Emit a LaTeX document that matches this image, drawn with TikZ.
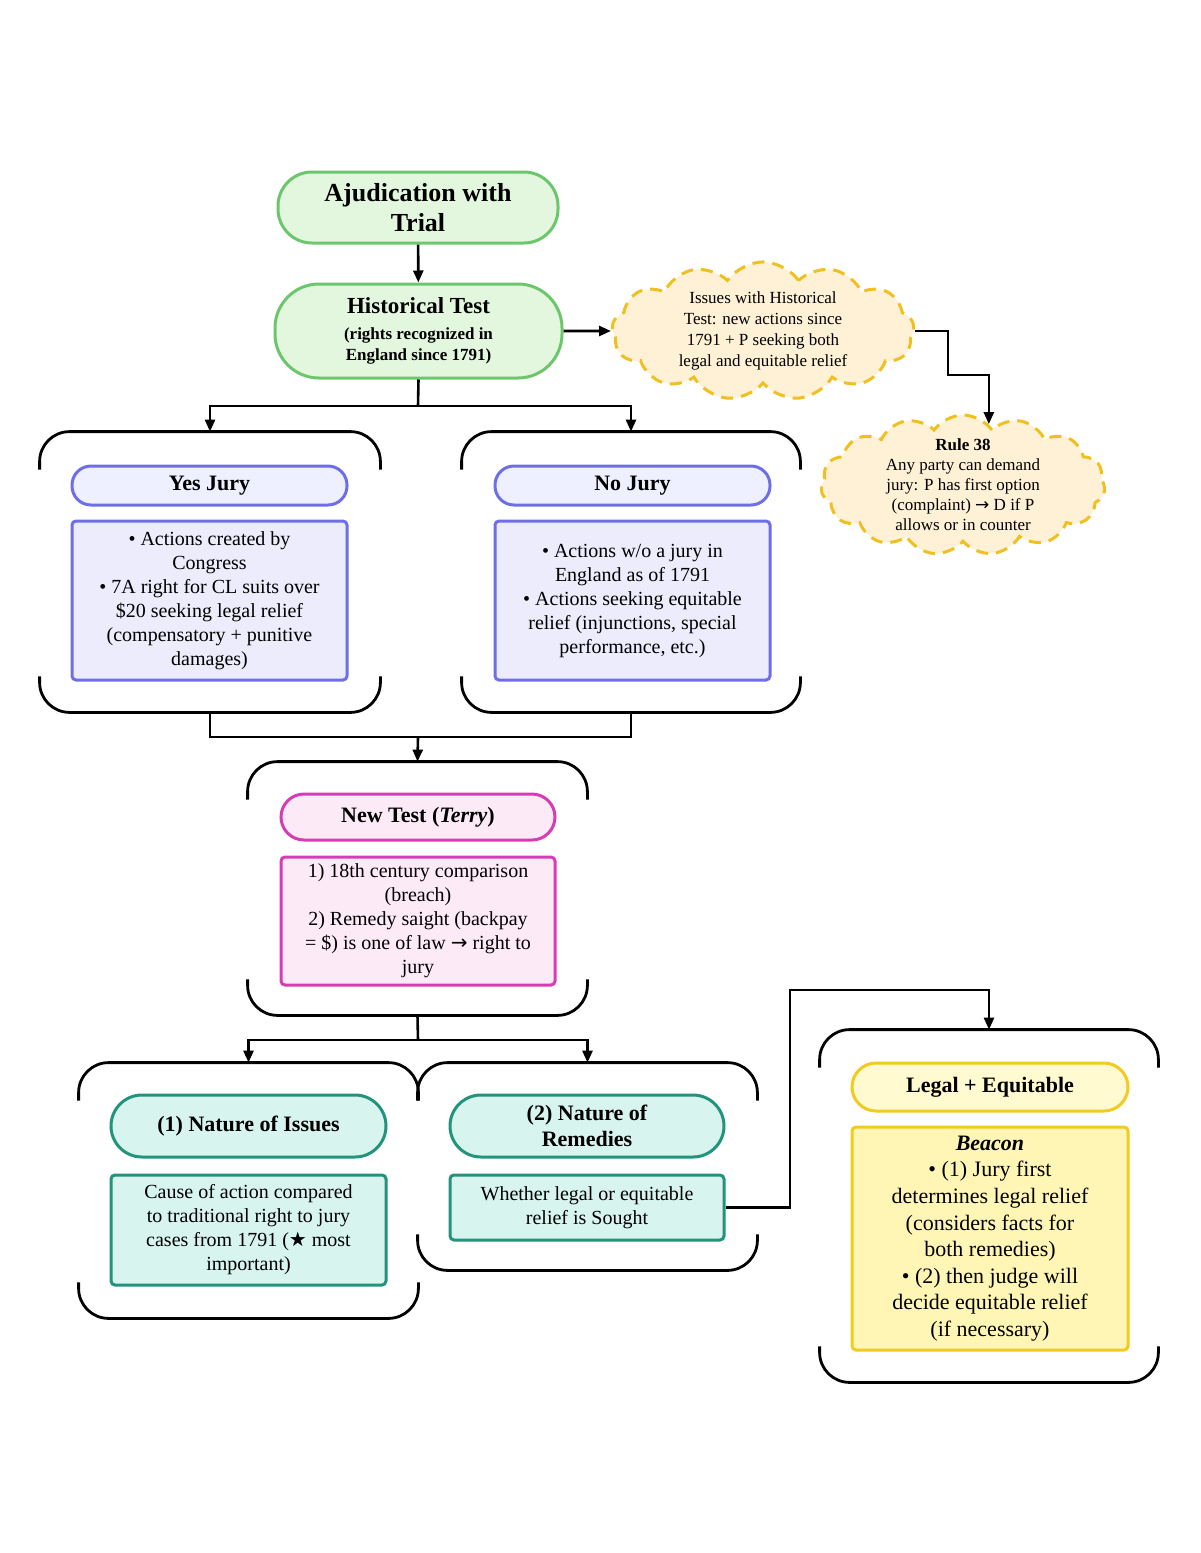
\documentclass[tikz,border=0pt]{standalone}
\usepackage{fontspec}
\setmainfont{Liberation Serif}
\newfontfamily\symf{DejaVu Sans}
\usetikzlibrary{arrows.meta,shapes.symbols,calc}
\definecolor{gbord}{HTML}{6CC66C}
\definecolor{gfill}{HTML}{E3F7DF}
\definecolor{cbord}{HTML}{F0C020}
\definecolor{cfill}{HTML}{FFF1D6}
\definecolor{lbord}{HTML}{6E6EE8}
\definecolor{lfill}{HTML}{EEF0FF}
\definecolor{lfillb}{HTML}{ECECFC}
\definecolor{pbord}{HTML}{D63DB5}
\definecolor{pfill}{HTML}{FDEAF7}
\definecolor{tbord}{HTML}{22937C}
\definecolor{tfill}{HTML}{D8F4EE}
\definecolor{ybord}{HTML}{F3CA1E}
\definecolor{yfill}{HTML}{FFFAD0}
\definecolor{yfillb}{HTML}{FFF6B5}
\newcommand\grpbrk[1]{%
  \draw[brk] ([yshift=-19pt]#1.north west) -- (#1.north west) -- (#1.north east) -- ([yshift=-19pt]#1.north east);
  \draw[brk] ([yshift=18pt]#1.south west) -- (#1.south west) -- (#1.south east) -- ([yshift=18pt]#1.south east);}
\begin{document}
\begin{tikzpicture}[x=0.5pt,y=-0.5pt,
  base/.style={align=center, inner sep=1pt, line width=1.5pt, font=\fontsize{10}{12}\selectfont},
  pill/.style={base, draw, font=\fontsize{11}{13}\selectfont\bfseries},
  cbox/.style={base, draw, rounded corners=2pt},
  cloudn/.style={cloud, cloud puffs=13, cloud puff arc=110, aspect=2.2, draw=cbord, fill=cfill, dashed, dash pattern=on 6pt off 4pt, line width=1.5pt, align=center, inner sep=0pt, font=\fontsize{8.5}{10.5}\selectfont},
  grp/.style={rectangle, inner sep=0pt, draw=none},
  brk/.style={line width=1.4pt, rounded corners=15pt},
  arr/.style={-{Triangle[length=6pt,width=5pt]}, line width=1.3pt},
  conn/.style={line width=1.3pt}]
\useasboundingbox (0,0) rectangle (1200,1553);

% top
\node[pill, draw=gbord, fill=gfill, minimum width=140pt, minimum height=35.5pt, rounded corners=17pt, font=\fontsize{13}{15}\selectfont\bfseries] (title) at (418,207.5) {Ajudication with\\Trial};
\node[pill, draw=gbord, fill=gfill, minimum width=143.5pt, minimum height=47pt, rounded corners=22pt] (hist) at (418.5,331)
  {\fontsize{11.5}{13}\selectfont Historical Test\\ \fontsize{8.5}{10.5}\selectfont (rights recognized in\\[-2.5pt] \fontsize{8.5}{10.5}\selectfont England since 1791)};
\node[cloudn, minimum width=151pt, minimum height=69pt] (cl1) at (763,331)
  {Issues with Historical\\Test: new actions since\\1791 + P seeking both\\legal and equitable relief};
\node[cloudn, cloud puffs=15, aspect=2.05, minimum width=142pt, minimum height=70pt, inner sep=-4pt, font=\fontsize{8.5}{10}\selectfont] (cl2) at (963,485)
  {\textbf{Rule 38}\\Any party can demand\\jury: P has first option\\(complaint) {\symf →} D if P\\allows or in counter};

% yes / no
\node[grp, minimum width=170pt, minimum height=140pt] (yesg) at (210,572) {};
\node[grp, minimum width=169pt, minimum height=140pt] (nog) at (631,572) {};
\grpbrk{yesg}
\grpbrk{nog}
\node[pill, draw=lbord, fill=lfill, minimum width=137.5pt, minimum height=19.5pt, rounded corners=9.5pt] (yesh) at (209.5,485.5) {Yes Jury};
\node[cbox, draw=lbord, fill=lfillb, minimum width=137.5pt, minimum height=79.5pt] (yesc) at (209.5,600.5)
  {• Actions created by\\Congress\\• 7A right for CL suits over\\\$20 seeking legal relief\\(compensatory + punitive\\damages)};
\node[pill, draw=lbord, fill=lfill, minimum width=137.5pt, minimum height=19.5pt, rounded corners=9.5pt] (noh) at (632.5,485.5) {No Jury};
\node[cbox, draw=lbord, fill=lfillb, minimum width=137.5pt, minimum height=79.5pt] (noc) at (632.5,600.5)
  {• Actions w/o a jury in\\England as of 1791\\• Actions seeking equitable\\relief (injunctions, special\\performance, etc.)};

% new test
\node[grp, minimum width=169.5pt, minimum height=126.5pt] (newg) at (417.5,888.5) {};
\grpbrk{newg}
\node[pill, draw=pbord, fill=pfill, minimum width=137pt, minimum height=23pt, rounded corners=11.5pt] (newh) at (418,817) {New Test (\textit{Terry})};
\node[cbox, draw=pbord, fill=pfill, minimum width=137pt, minimum height=64pt] (newc) at (418,921)
  {1) 18th century comparison\\(breach)\\2) Remedy saight (backpay\\= \$) is one of law {\symf →} right to\\jury};

% bottom groups
\node[grp, minimum width=169.5pt, minimum height=127.5pt] (g1) at (248.5,1190.5) {};
\node[grp, minimum width=169.5pt, minimum height=103.5pt] (g2) at (587.5,1166.5) {};
\node[grp, minimum width=169pt, minimum height=176pt] (g3) at (989,1206) {};
\grpbrk{g1}
\grpbrk{g2}
\grpbrk{g3}
\node[pill, draw=tbord, fill=tfill, minimum width=137.5pt, minimum height=31pt, rounded corners=15.5pt] (h1) at (248.5,1126) {(1) Nature of Issues};
\node[cbox, draw=tbord, fill=tfill, minimum width=137.5pt, minimum height=55pt] (c1) at (248.5,1230)
  {Cause of action compared\\to traditional right to jury\\cases from 1791 ({\symf ★} most\\important)};
\node[pill, draw=tbord, fill=tfill, minimum width=137pt, minimum height=31pt, rounded corners=15.5pt] (h2) at (587,1126) {(2) Nature of\\Remedies};
\node[cbox, draw=tbord, fill=tfill, minimum width=137pt, minimum height=32.5pt] (c2) at (587,1207.5)
  {Whether legal or equitable\\relief is Sought};
\node[pill, draw=ybord, fill=yfill, minimum width=138pt, minimum height=24pt, rounded corners=12pt] (h3) at (990,1087) {Legal + Equitable};
\node[cbox, draw=ybord, fill=yfillb, minimum width=138pt, minimum height=111.5pt, font=\fontsize{11}{13.3}\selectfont] (c3) at (990,1238.5)
  {\textbf{\textit{Beacon}}\\• (1) Jury first\\determines legal relief\\(considers facts for\\both remedies)\\• (2) then judge will\\decide equitable relief\\(if necessary)};

% connectors
\coordinate (s1) at (418,406);
\coordinate (r1) at (948,375);
\coordinate (m1) at (418,737);
\coordinate (s2) at (418,1040);
\coordinate (k1) at (790,990);
\draw[arr] (title) -- (hist);
\draw[arr] (hist.east) -- (cl1.west);
\draw[arr] (cl1.east) -| (r1) -| (cl2.67);
\draw[conn] (hist.south) -- (s1);
\draw[arr] (s1) -| (yesg.north);
\draw[arr] (s1) -| (nog.north);
\draw[conn] (yesg.south) |- (m1) -| (nog.south);
\draw[arr] (m1) -- (newg.north);
\draw[conn] (newg.south) -- (s2);
\draw[arr] (s2) -| (g1.north);
\draw[arr] (s2) -| (g2.north);
\draw[arr] (c2.east) -| (k1) -| (g3.north);
\end{tikzpicture}
\end{document}
